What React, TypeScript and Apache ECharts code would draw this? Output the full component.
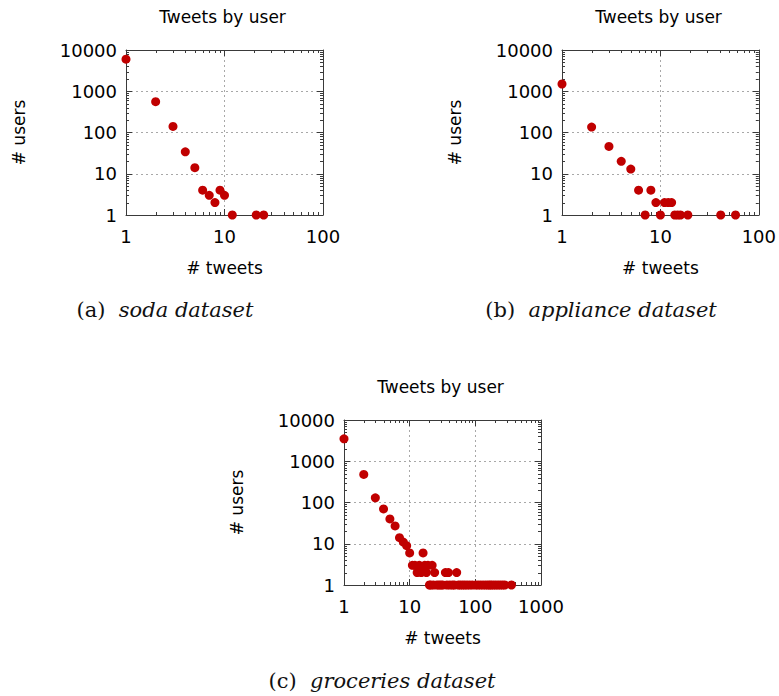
import { useEffect, useRef } from 'react';
import * as echarts from 'echarts';

// Number of users (y) having posted a given number of tweets (x)
const sodaTweets = [1, 2, 3, 4, 5, 6, 7, 8, 9, 10, 12, 21, 25];
const sodaUsers = [6000, 560, 140, 34, 14, 4, 3, 2, 4, 3, 1, 1, 1];

const applianceTweets = [1, 2, 3, 4, 5, 6, 7, 8, 9, 10, 11, 12, 13, 14, 15, 16, 19, 41, 58];
const applianceUsers = [1500, 135, 46, 20, 13, 4, 1, 4, 2, 1, 2, 2, 2, 1, 1, 1, 1, 1, 1];

const groceriesTweets = [
  1, 2, 3, 4, 5, 6, 7, 8, 9, 10,
  11, 12, 13, 14, 15, 16, 17, 18, 19, 20, 21, 22, 23, 24,
  26, 28, 30, 32,
  35, 37, 39, 41,
  45, 48, 52,
  55, 59, 64, 69, 75, 82, 90,
  101, 110, 120, 131, 143, 155, 166,
  176, 190, 205, 222, 240, 260, 281,
  355,
];
const groceriesUsers = [
  3500, 480, 130, 70, 40, 27, 14, 11, 9, 6,
  3, 3, 2, 3, 2, 6, 3, 2, 3, 1, 1, 3, 1, 2,
  1, 1, 1, 1,
  2, 1, 2, 1,
  1, 1, 2,
  1, 1, 1, 1, 1, 1, 1,
  1, 1, 1, 1, 1, 1, 1,
  1, 1, 1, 1, 1, 1, 1,
  1,
];

const plotTitle = 'Tweets by user';
const xName = '# tweets';
const yName = '# users';
const captionTags = ['(a)', '(b)', '(c)'];
const captionNames = ['soda dataset', 'appliance dataset', 'groceries dataset'];

const xMaxima = [100, 100, 1000];
const yMax = 10000;
// minor ticks of a log axis sit at 2..9 times each decade
const minorMultipliers = [2, 3, 4, 5, 6, 7, 8, 9];

const SANS = 'DejaVu Sans';
const SERIF = 'DejaVu Serif';
const FRAME = '#3a3a3a';
const DOT = '#C00000';

const GRIDS = [
  { left: 126, top: 50, width: 197, height: 165 },
  { left: 562, top: 50, width: 197, height: 165 },
  { left: 344, top: 420, width: 197, height: 165 },
];

function decadesUpTo(max: number): number[] {
  const out: number[] = [];
  for (let d = 1; d < max; d *= 10) out.push(d);
  return out;
}

function minorTickData(xMax: number) {
  const data: number[][] = [];
  decadesUpTo(xMax).forEach((d) => minorMultipliers.forEach((m) => data.push([d * m, 1, 0])));
  decadesUpTo(yMax).forEach((d) => minorMultipliers.forEach((m) => data.push([1, d * m, 1])));
  return data;
}

const labelFormatter = (v: number) => String(Math.round(v));

export default function App() {
  const ref = useRef<HTMLDivElement>(null);

  useEffect(() => {
    if (!ref.current) return;
    const chart = echarts.init(ref.current, undefined, { renderer: 'svg' });

    const datasets = [
      [sodaTweets, sodaUsers],
      [applianceTweets, applianceUsers],
      [groceriesTweets, groceriesUsers],
    ];

    const xAxis: any[] = [];
    const yAxis: any[] = [];
    const series: any[] = [];
    const graphic: any[] = [];

    GRIDS.forEach((g, i) => {
      const xMax = xMaxima[i];
      const frameLine = { show: true, onZero: false, lineStyle: { color: FRAME, width: 1 } };
      const majorTick = { show: true, inside: true, length: 6, lineStyle: { color: FRAME, width: 1 } };
      const split = { show: true, lineStyle: { color: '#a8a8a8', width: 1, type: [2, 3] } };
      const tickLabel = {
        show: true,
        color: '#000',
        fontFamily: SANS,
        fontSize: 18,
        formatter: labelFormatter,
        showMinLabel: true,
        showMaxLabel: true,
      };

      xAxis.push({
        type: 'log', logBase: 10, gridIndex: i, min: 1, max: xMax, position: 'bottom',
        name: xName, nameLocation: 'middle', nameGap: 44,
        nameTextStyle: { color: '#000', fontFamily: SANS, fontSize: 17 },
        axisLine: frameLine, axisTick: majorTick,
        axisLabel: { ...tickLabel, margin: 12 },
        splitLine: split,
      });
      xAxis.push({
        type: 'log', logBase: 10, gridIndex: i, min: 1, max: xMax, position: 'top',
        axisLine: frameLine, axisTick: majorTick,
        axisLabel: { show: false }, splitLine: { show: false },
      });
      yAxis.push({
        type: 'log', logBase: 10, gridIndex: i, min: 1, max: yMax, position: 'left',
        name: yName, nameLocation: 'middle', nameGap: 99, nameRotate: 90,
        nameTextStyle: { color: '#000', fontFamily: SANS, fontSize: 17 },
        axisLine: frameLine, axisTick: majorTick,
        axisLabel: { ...tickLabel, margin: 9 },
        splitLine: split,
      });
      yAxis.push({
        type: 'log', logBase: 10, gridIndex: i, min: 1, max: yMax, position: 'right',
        axisLine: frameLine, axisTick: majorTick,
        axisLabel: { show: false }, splitLine: { show: false },
      });

      const [xs, ys] = datasets[i];
      series.push({
        type: 'scatter',
        xAxisIndex: 2 * i,
        yAxisIndex: 2 * i,
        data: xs.map((x, k) => [x, ys[k]]),
        symbol: 'circle',
        symbolSize: 9,
        itemStyle: { color: DOT, opacity: 1 },
        clip: false,
        silent: true,
        z: 5,
      });

      series.push({
        type: 'custom',
        xAxisIndex: 2 * i,
        yAxisIndex: 2 * i,
        data: minorTickData(xMax),
        encode: { x: 0, y: 1 },
        clip: false,
        silent: true,
        z: 3,
        renderItem: (params: any, api: any) => {
          const cs = params.coordSys;
          const pt = api.coord([api.value(0), api.value(1)]);
          const style = { stroke: FRAME, lineWidth: 1 };
          const len = 3;
          if (api.value(2) === 0) {
            const x = Math.round(pt[0]) + 0.5;
            return {
              type: 'group',
              children: [
                { type: 'line', shape: { x1: x, y1: cs.y + cs.height, x2: x, y2: cs.y + cs.height - len }, style },
                { type: 'line', shape: { x1: x, y1: cs.y, x2: x, y2: cs.y + len }, style },
              ],
            };
          }
          const y = Math.round(pt[1]) + 0.5;
          return {
            type: 'group',
            children: [
              { type: 'line', shape: { x1: cs.x, y1: y, x2: cs.x + len, y2: y }, style },
              { type: 'line', shape: { x1: cs.x + cs.width, y1: y, x2: cs.x + cs.width - len, y2: y }, style },
            ],
          };
        },
      });

      const cx = g.left + g.width / 2;
      graphic.push({
        type: 'text',
        x: cx - 2,
        y: g.top - 33,
        style: {
          text: plotTitle,
          font: `17px "${SANS}"`,
          fill: '#000',
          textAlign: 'center',
          textVerticalAlign: 'middle',
        },
      });
    });

    const captionPos = [
      [165, 310],
      [601, 310],
      [382, 681],
    ];
    captionPos.forEach(([x, y], i) => {
      graphic.push({
        type: 'text',
        x,
        y,
        style: {
          text: `{n|${captionTags[i]}}  {i|${captionNames[i]}}`,
          fill: '#111',
          font: `21px "${SERIF}"`,
          textAlign: 'center',
          textVerticalAlign: 'middle',
          rich: {
            n: { fontFamily: SERIF, fontSize: 21, fontStyle: 'normal', fill: '#111' },
            i: { fontFamily: SERIF, fontSize: 21, fontStyle: 'italic', fill: '#111' },
          },
        },
      });
    });

    chart.setOption({
      animation: false,
      backgroundColor: '#fff',
      grid: GRIDS.map((g) => ({ ...g, containLabel: false })),
      xAxis,
      yAxis,
      series,
      graphic,
    });

    return () => chart.dispose();
  }, []);

  return (
    <div
      ref={ref}
      style={{ position: 'fixed', left: 0, top: 0, width: 779, height: 696 }}
    />
  );
}
